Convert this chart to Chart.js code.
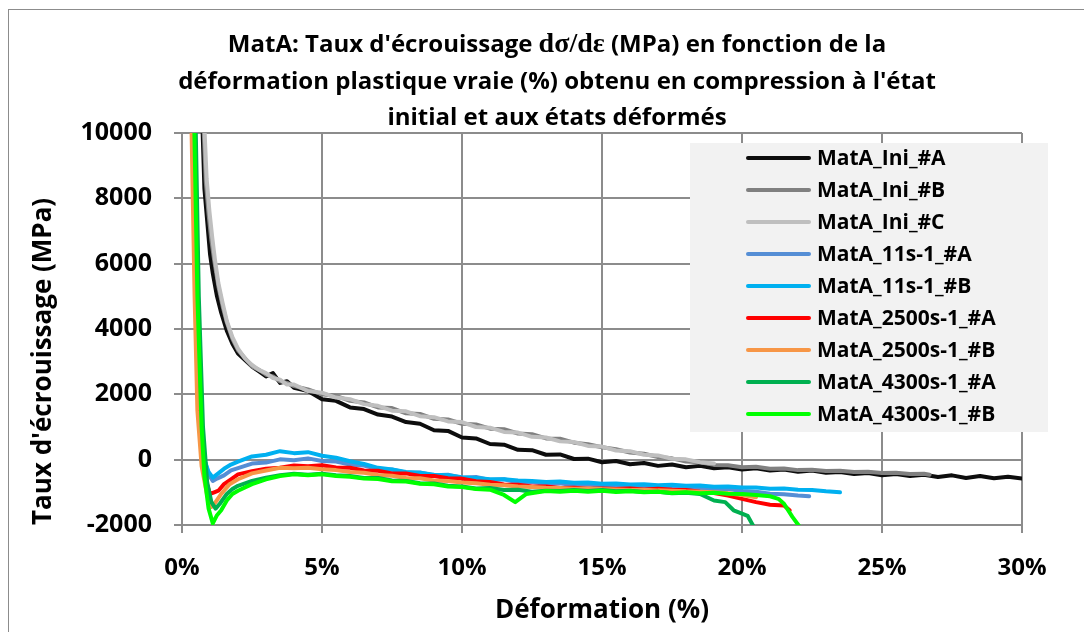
<!DOCTYPE html>
<html>
<head>
<meta charset="utf-8">
<script src="https://cdn.jsdelivr.net/npm/chart.js@4.4.1/dist/chart.umd.min.js"></script>
<style>
html, body { margin: 0; padding: 0; background: #fff; overflow: hidden; }
#wrap { position: relative; width: 1084px; height: 632px; }
#frame { position: absolute; left: 8px; top: 9px; width: 1100px; height: 650px; border: 1px solid #8c8c8c; pointer-events: none; }
</style>
</head>
<body>
<div id="wrap">
  <canvas id="chart" width="1084" height="632"></canvas>
  <div id="frame"></div>
</div>
<script>
// strain in %, hardening rate in MPa
const seriesNames = ['MatA_Ini_#A', 'MatA_Ini_#B', 'MatA_Ini_#C', 'MatA_11s-1_#A', 'MatA_11s-1_#B',
  'MatA_2500s-1_#A', 'MatA_2500s-1_#B', 'MatA_4300s-1_#A', 'MatA_4300s-1_#B'];
const seriesColors = ['#0d0d0d', '#808080', '#bfbfbf', '#558ed5', '#00b0f0', '#ff0000', '#f79646', '#00b050', '#00ff00'];

const iniA_x = [0.72,0.8,0.9,1.0,1.1,1.25,1.4,1.6,1.8,2.0,2.25,2.5,2.75,3.0,3.25,3.5,3.75,4.0,4.5,5.0,
  5.5,6,6.5,7,7.5,8,8.5,9,9.5,10,10.5,11,11.5,12,12.5,13,13.5,14,14.5,15,15.5,16,16.5,17,17.5,18,18.5,19,19.5,20,
  20.5,21,21.5,22,22.5,23,23.5,24,24.5,25,25.5,26,26.5,27,27.5,28,28.5,29,29.5,30];
const iniA_y = [10500,8300,7300,6300,5700,5000,4500,3950,3550,3250,3050,2850,2700,2550,2650,2350,2400,2200,2100,1850,
  1800,1600,1550,1380,1320,1150,1100,900,880,680,650,480,460,300,290,150,160,20,30,-80,-40,-140,-100,-190,-150,-230,-190,-260,-230,-300,
  -260,-330,-300,-370,-330,-400,-380,-440,-410,-480,-440,-500,-460,-530,-480,-560,-500,-570,-520,-580];

const iniB_x = [0.75,0.85,0.95,1.05,1.15,1.3,1.45,1.6,1.8,2.0,2.25,2.5,2.75,3.0,3.25,3.5,3.75,4.0,4.5,5.0,
  5.5,6,6.5,7,7.5,8,8.5,9,9.5,10,10.5,11,11.5,12,12.5,13,13.5,14,14.5,15,15.5,16,16.5,17,17.5,18,18.5,19,19.5,20,
  20.5,21,21.5,22,22.5,23,23.5,24,24.5,25,25.5,26,26.5,26.7];
const iniB_y = [10600,8500,7500,6700,6100,5300,4700,4200,3700,3350,3100,2850,2750,2600,2550,2400,2350,2250,2150,2000,
  1950,1800,1750,1600,1580,1420,1400,1250,1230,1100,1080,950,930,800,780,650,640,520,470,380,320,220,180,80,40,-60,-80,-160,-170,-230,
  -220,-280,-270,-320,-310,-350,-340,-380,-370,-410,-400,-440,-430,-460];

const iniC_x = [0.78,0.88,0.98,1.08,1.18,1.3,1.45,1.6,1.8,2.0,2.25,2.5,2.75,3.0,3.25,3.5,3.75,4.0,4.5,5.0,
  5.5,6,6.5,7,7.5,8,8.5,9,9.5,10,10.5,11,11.5,12,12.5,13,13.5,14,14.5,15,15.5,16,16.5,17,17.5,18,18.5,19];
const iniC_y = [10600,8600,7600,6800,6100,5400,4800,4250,3750,3400,3100,2900,2750,2650,2500,2450,2300,2300,2100,2050,
  1900,1850,1700,1650,1500,1480,1330,1300,1170,1150,1000,980,850,830,700,680,560,540,420,400,280,260,150,130,30,10,-80,-120];

const s11A_x = [0.35,0.5,0.65,0.8,0.95,1.1,1.25,1.5,1.75,
  2,2.5,3,3.5,4,4.5,5,5.5,6,6.5,7,7.5,8,8.5,9,9.5,10,10.5,11,11.5,12,12.5,13,13.5,14,14.5,15,15.5,16,16.5,
  17,17.5,18,18.5,19,19.5,20,20.5,21,21.5,22,22.4];
const s11A_y = [12000,5000,1500,0,-450,-650,-580,-480,-330,
  -260,-120,-90,10,-20,40,-40,-60,-150,-180,-290,-300,-400,-390,-480,-460,-550,-530,-620,-600,-700,-680,-750,-720,-780,-760,-800,-790,-830,-810,
  -860,-840,-880,-860,-900,-900,-960,-980,-1040,-1060,-1100,-1120];

const s11B_x = [0.35,0.5,0.65,0.8,0.95,1.1,1.25,1.5,1.75,
  2,2.5,3,3.5,4,4.5,5,5.5,6,6.5,7,7.5,8,8.5,9,9.5,10,10.5,11,11.5,12,12.5,13,13.5,14,14.5,15,15.5,16,16.5,
  17,17.5,18,18.5,19,19.5,20,20.5,21,21.5,22,22.5,23,23.5];
const s11B_y = [12000,5000,1500,0,-380,-550,-450,-280,-150,
  -60,100,150,260,200,230,120,60,-50,-130,-250,-300,-380,-400,-460,-480,-540,-560,-600,-600,-640,-650,-680,-670,-710,-700,-740,-730,-760,-750,
  -780,-770,-800,-790,-830,-820,-850,-850,-890,-880,-920,-930,-970,-1000];

const s2500A_x = [0.35,0.5,0.65,0.8,1.0,1.15,1.3,1.5,1.75,
  2,2.5,3,3.5,4,4.5,5,5.5,6,6.5,7,7.5,8,8.5,9,9.5,10,10.5,11,11.5,12,12.5,13,13.5,14,14.5,15,15.5,16,16.5,
  17,17.5,18,18.5,19,19.5,20,20.5,21,21.5,21.7];
const s2500A_y = [12000,5000,1000,-500,-1050,-1000,-950,-750,-600,
  -450,-350,-280,-250,-180,-200,-170,-240,-250,-330,-340,-420,-420,-500,-500,-570,-580,-660,-680,-760,-770,-820,-820,-870,-860,-890,-880,-900,-880,-910,
  -890,-920,-930,-980,-1020,-1100,-1200,-1300,-1380,-1400,-1550];

const s2500B_x = [0.3,0.45,0.55,0.7,0.9,1.05,1.2,1.4,1.7,
  2,2.5,3,3.5,4,4.5,5,5.5,6,6.5,7,7.5,8,8.5,9,9.5,10,10.5,11,11.5,12,12.5,13,13.5,14,14.5,15,15.5,16,16.5,
  17,17.5,18,18.5,19,19.5,20,20.5];
const s2500B_y = [12000,5000,1500,-200,-1100,-1450,-1300,-1050,-750,
  -600,-420,-330,-250,-260,-250,-290,-320,-380,-400,-470,-490,-560,-570,-640,-650,-700,-720,-770,-780,-820,-840,-860,-870,-890,-880,-900,-910,-930,-920,
  -940,-950,-970,-980,-1000,-1030,-1080,-1150];

const s4300A_x = [0.45,0.6,0.75,0.9,1.05,1.2,1.35,1.6,1.8,
  2,2.5,3,3.5,4,4.5,5,5.5,6,6.5,7,7.5,8,8.5,9,9.5,10,10.5,11,11.5,12,12.5,13,13.5,14,14.5,15,15.5,16,16.5,
  17,17.5,18,18.5,19,19.4,19.7,20.0,20.2,20.45];
const s4300A_y = [12000,5000,1000,-700,-1300,-1500,-1350,-1050,-900,
  -800,-650,-550,-480,-430,-460,-430,-480,-500,-560,-560,-640,-650,-720,-730,-800,-820,-880,-870,-930,-920,-980,-950,-960,-930,-960,-930,-970,-950,-990,
  -980,-1030,-1010,-1050,-1250,-1300,-1550,-1650,-1720,-2100];

const s4300B_x = [0.4,0.55,0.7,0.8,0.95,1.1,1.25,1.4,1.6,1.8,
  2,2.5,3,3.5,4,4.5,5,5.5,6,6.5,7,7.5,8,8.5,9,9.5,10,10.5,11,11.5,11.9,12.3,12.7,
  13,13.5,14,14.5,15,15.5,16,16.5,17,17.5,18,18.5,19,19.5,20,20.5,21,21.3,21.5,21.8,22.1];
const s4300B_y = [12000,5000,1000,-500,-1500,-1950,-1700,-1550,-1250,-1050,
  -950,-750,-600,-500,-450,-480,-450,-500,-520,-580,-590,-660,-670,-740,-750,-820,-840,-900,-920,-1080,-1300,-1050,-1000,
  -960,-980,-950,-980,-950,-990,-970,-1000,-980,-1020,-1000,-1030,-1010,-1040,-1050,-1080,-1120,-1200,-1350,-1750,-2100];

const xTicks = [0, 5, 10, 15, 20, 25, 30];
const yTicks = [-2000, 0, 2000, 4000, 6000, 8000, 10000];
const titleLines = [
  ['MatA: Taux d\'écrouissage ', 'dσ/dε', ' (MPa) en fonction de la'],
  ['déformation plastique vraie (%) obtenu en compression à l\'état'],
  ['initial et aux états déformés']
];

const allX = [iniA_x, iniB_x, iniC_x, s11A_x, s11B_x, s2500A_x, s2500B_x, s4300A_x, s4300B_x];
const allY = [iniA_y, iniB_y, iniC_y, s11A_y, s11B_y, s2500A_y, s2500B_y, s4300A_y, s4300B_y];

const FONT = '"Open Sans", Lato, sans-serif';

const datasets = seriesNames.map((name, i) => ({
  label: name,
  data: allX[i].map((x, j) => ({ x: x, y: allY[i][j] })),
  borderColor: seriesColors[i],
  backgroundColor: seriesColors[i],
  borderWidth: 4,
  pointRadius: 0,
  tension: 0,
  borderJoinStyle: 'round',
  borderCapStyle: 'round',
  order: seriesNames.length - i
}));

// title with the serif dσ/dε part
const titlePlugin = {
  id: 'excelTitle',
  afterDraw(chart) {
    const ctx = chart.ctx;
    ctx.save();
    ctx.fillStyle = '#000';
    ctx.textBaseline = 'middle';
    ctx.textAlign = 'left';
    const ys = [45, 82, 118];
    titleLines.forEach((parts, li) => {
      const fonts = parts.map((p, k) => (parts.length === 3 && k === 1) ? 'bold 28px "Liberation Serif", serif' : 'bold 24px ' + FONT);
      let w = 0;
      parts.forEach((p, k) => { ctx.font = fonts[k]; w += ctx.measureText(p).width; });
      let x = 557 - w / 2;
      parts.forEach((p, k) => { ctx.font = fonts[k]; ctx.fillText(p, x, ys[li]); x += ctx.measureText(p).width; });
    });
    ctx.restore();
  }
};

// legend box inside the plot, as in the spreadsheet
const legendPlugin = {
  id: 'boxLegend',
  afterDatasetsDraw(chart) {
    const ctx = chart.ctx;
    ctx.save();
    ctx.fillStyle = '#f2f2f2';
    ctx.fillRect(690, 143, 358, 289);
    ctx.font = 'bold 21px ' + FONT;
    ctx.textBaseline = 'middle';
    ctx.textAlign = 'left';
    chart.data.datasets.forEach((ds, i) => {
      const y = 158 + i * 32;
      ctx.strokeStyle = ds.borderColor;
      ctx.lineWidth = 4;
      ctx.lineCap = 'round';
      ctx.beginPath();
      ctx.moveTo(748, y);
      ctx.lineTo(809, y);
      ctx.stroke();
      ctx.fillStyle = '#000';
      ctx.fillText(ds.label, 817, y + 1);
    });
    ctx.restore();
  }
};

new Chart(document.getElementById('chart'), {
  type: 'line',
  data: { datasets: datasets },
  plugins: [titlePlugin, legendPlugin],
  options: {
    responsive: false,
    animation: false,
    layout: { padding: { left: 8, top: 133, right: 62, bottom: 0 } },
    plugins: { legend: { display: false }, title: { display: false }, tooltip: { enabled: false } },
    scales: {
      x: {
        type: 'linear',
        min: 0,
        max: 30,
        afterBuildTicks: (scale) => { scale.ticks = xTicks.map(v => ({ value: v })); },
        afterFit: (scale) => { scale.height = 107; },
        ticks: { callback: (v) => v + '%', color: '#000', font: { family: FONT, size: 24, weight: 'bold' }, padding: 21, maxRotation: 0 },
        grid: { color: '#8c8c8c', lineWidth: 2, tickLength: 8 },
        border: { color: '#8c8c8c', width: 2 },
        title: { display: true, text: 'Déformation (%)', color: '#000', font: { family: FONT, size: 26, weight: 'bold', lineHeight: 1 }, padding: { top: 0, bottom: 8 } }
      },
      y: {
        min: -2000,
        max: 10000,
        afterBuildTicks: (scale) => { scale.ticks = yTicks.map(v => ({ value: v })); },
        afterFit: (scale) => { scale.width = 174; },
        ticks: { callback: (v) => String(v), color: '#000', font: { family: FONT, size: 25, weight: 'bold' }, padding: 22 },
        grid: { color: '#8c8c8c', lineWidth: 2, tickLength: 8 },
        border: { color: '#8c8c8c', width: 2 },
        title: { display: true, align: 'start', text: 'Taux d\'écrouissage (MPa)', color: '#000', font: { family: FONT, size: 26, weight: 'bold', lineHeight: 1 }, padding: { top: 23, bottom: 0 } }
      }
    }
  }
});
</script>
</body>
</html>
